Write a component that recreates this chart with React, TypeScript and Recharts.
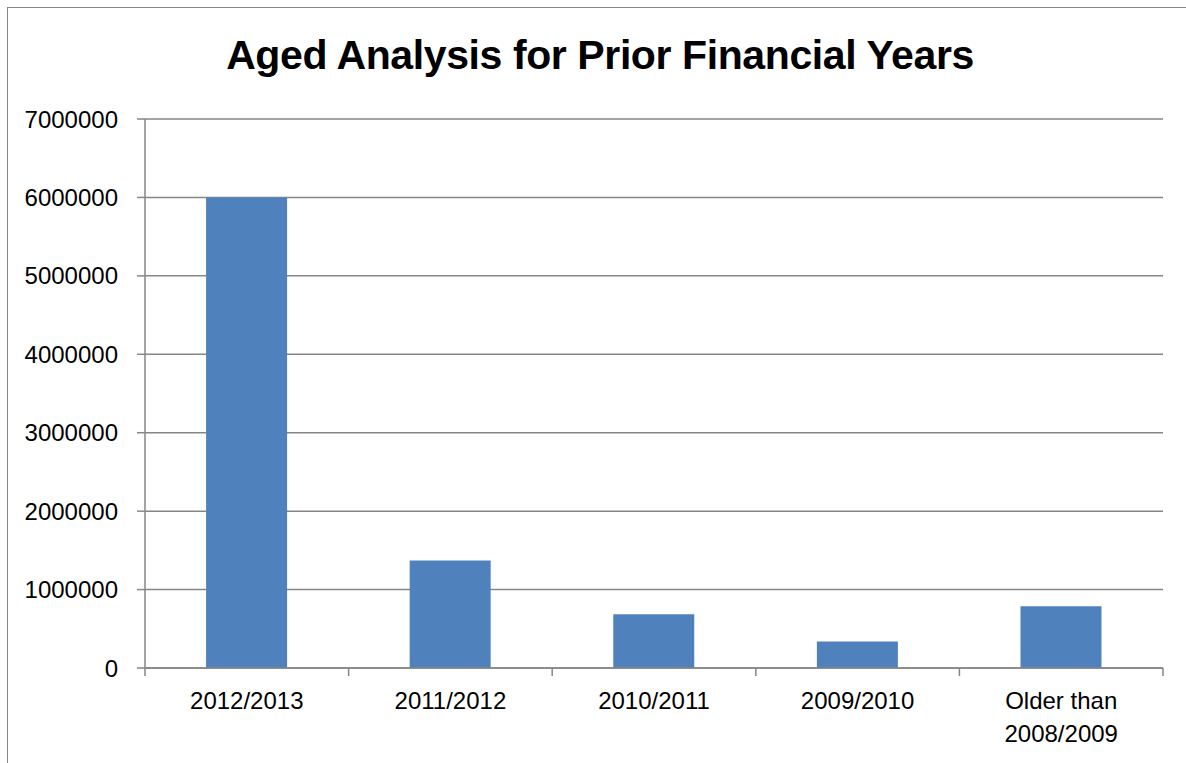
import React from "react";
import { BarChart, Bar, XAxis, YAxis, CartesianGrid } from "recharts";

const categories = ["2012/2013", "2011/2012", "2010/2011", "2009/2010", "Older than\n2008/2009"];
const amounts = [6000000, 1370000, 685000, 338000, 787000];
const yTicks = [0, 1000000, 2000000, 3000000, 4000000, 5000000, 6000000, 7000000];

const data = categories.map((name, i) => ({ name, amount: amounts[i] }));

const FONT = "'Liberation Sans Narrow', 'Liberation Sans', Arial, sans-serif";
const GREY = "#868686";
const TICK_SIZE = 8;
const TICK_MARGIN = 16;

// Excel puts the x tick marks between categories, so draw them from the band offset
function CategoryTick(props: any) {
  const { x, y, payload, index, visibleTicksCount } = props;
  const lines = String(payload.value).split("\n");
  const half = payload.offset ?? 0;
  const axisY = y - TICK_SIZE - TICK_MARGIN;
  const isLast = index === visibleTicksCount - 1;
  return (
    <g>
      <line x1={x - half} x2={x - half} y1={axisY} y2={axisY + TICK_SIZE} stroke={GREY} strokeWidth={1.5} />
      {isLast && (
        <line x1={x + half} x2={x + half} y1={axisY} y2={axisY + TICK_SIZE} stroke={GREY} strokeWidth={1.5} />
      )}
      <text x={x} y={y} textAnchor="middle" fill="#000" fontSize={24} fontFamily={FONT}>
        {lines.map((line, i) => (
          <tspan key={i} x={x} dy={i === 0 ? "0.71em" : 33}>
            {line}
          </tspan>
        ))}
      </text>
    </g>
  );
}

export default function App() {
  return (
    <div
      style={{
        position: "fixed",
        left: 7,
        top: 7,
        width: 1179,
        height: 756,
        borderLeft: `1px solid ${GREY}`,
        borderTop: `1px solid ${GREY}`,
        background: "#fff",
        overflow: "hidden",
      }}
    >
      <div
        style={{
          position: "absolute",
          left: 0,
          top: 26,
          width: 1184,
          textAlign: "center",
          fontFamily: FONT,
          fontWeight: "bold",
          fontSize: 41,
          letterSpacing: -0.4,
          lineHeight: "43px",
          color: "#000",
        }}
      >
        Aged Analysis for Prior Financial Years
      </div>
      <div style={{ position: "absolute", left: 0, top: 0 }}>
        <BarChart
          width={1178}
          height={755}
          data={data}
          margin={{ top: 111, right: 23, left: 0, bottom: 15 }}
          barCategoryGap="30%"
        >
          <CartesianGrid horizontal vertical={false} stroke={GREY} strokeWidth={1.5} />
          <XAxis
            dataKey="name"
            height={80}
            interval={0}
            tickLine={false}
            tickSize={TICK_SIZE}
            tickMargin={TICK_MARGIN}
            axisLine={{ stroke: GREY, strokeWidth: 1.5 }}
            tick={<CategoryTick />}
          />
          <YAxis
            width={137}
            domain={[0, 7000000]}
            ticks={yTicks}
            interval={0}
            axisLine={{ stroke: GREY, strokeWidth: 1.5 }}
            tickLine={{ stroke: GREY, strokeWidth: 1.5 }}
            tickSize={8}
            tickMargin={19}
            tick={{ fontSize: 24, fill: "#000", fontFamily: FONT }}
          />
          <Bar dataKey="amount" fill="#4F81BD" isAnimationActive={false} />
        </BarChart>
      </div>
    </div>
  );
}
